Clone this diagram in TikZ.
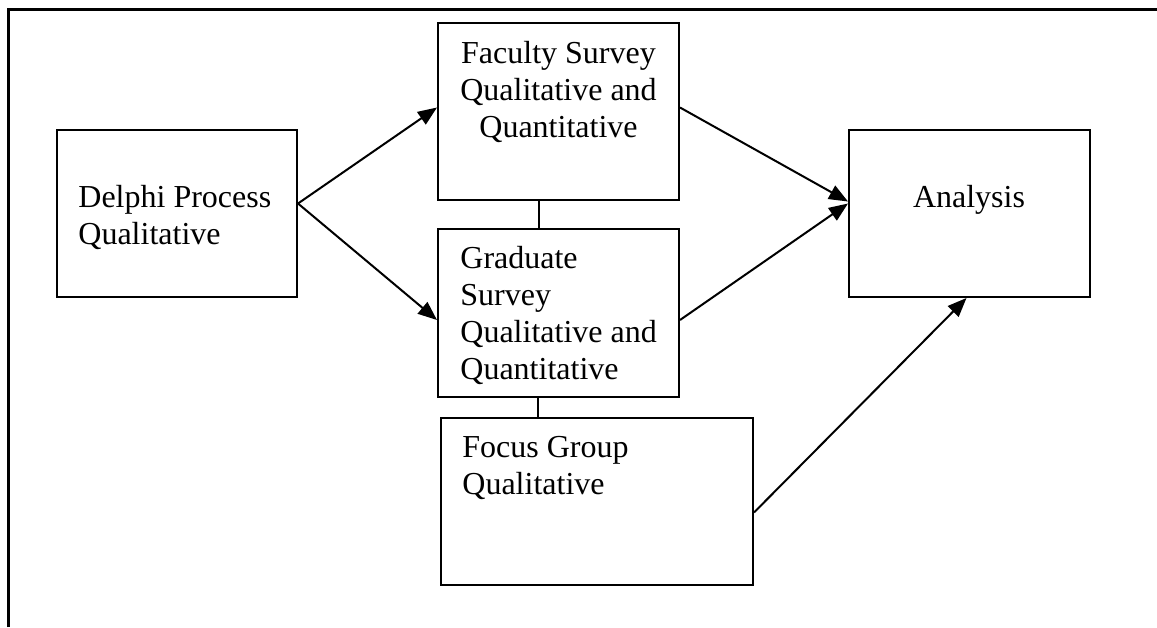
\documentclass[tikz,border=0pt]{standalone}
\usepackage{fontspec}
\setmainfont{Liberation Serif}
\usetikzlibrary{arrows.meta,positioning}

\tikzset{
    stage/.style={draw, line width=1pt, inner sep=0pt},
    stagetext/.style={font=\fontsize{16}{18.5}\selectfont, inner sep=0pt, align=left},
    flow/.style={-{Triangle[length=9.5pt,width=7.5pt]}, line width=1pt},
    link/.style={line width=1pt}
}

\begin{document}
\begin{tikzpicture}[x=0.5pt,y=-0.5pt]
    \useasboundingbox (0,0) rectangle (1157,627);

    % open frame
    \draw [line width=1.5pt] (8,627) -- (8,9) -- (1157,9);

    % boxes
    \node [stage, minimum width=120pt, minimum height=83.5pt] (delphi) at (177,213.5) {};
    \node [stage, minimum width=120.5pt, minimum height=88.5pt] (faculty) at (558.5,111.5) {};
    \node [stage, minimum width=120.5pt, minimum height=84pt] (graduate) at (558.5,313) {};
    \node [stage, minimum width=156pt, minimum height=83.5pt] (focus) at (597,501.5) {};
    \node [stage, minimum width=120.5pt, minimum height=83.5pt] (analysis) at (969.5,213.5) {};

    % texts (base = last line)
    \node [stagetext, anchor=base west] (delphitext) at (78,244)
        {Delphi Process\\Qualitative};
    \node [stagetext, align=center, anchor=base] (facultytext) at (558.5,137)
        {Faculty Survey\\Qualitative and\\Quantitative};
    \node [stagetext, anchor=base west] (graduatetext) at (460,379)
        {Graduate\\Survey\\Qualitative and\\Quantitative};
    \node [stagetext, anchor=base west] (focustext) at (462,494)
        {Focus Group\\Qualitative};
    \node [stagetext, anchor=base] (analysistext) at (969,207) {Analysis};

    % arrows
    \draw [flow] ([yshift=5pt]delphi.east) -- ([yshift=2pt]faculty.west);
    \draw [flow] ([yshift=5pt]delphi.east) -- ([yshift=-3.5pt]graduate.west);
    \draw [flow] ([yshift=2pt]faculty.east) -- ([yshift=6pt]analysis.west);
    \draw [flow] ([yshift=-3.5pt]graduate.east) -- ([yshift=5pt]analysis.west);
    \draw [flow] ([yshift=-5.5pt]focus.east) -- ([xshift=-1.5pt]analysis.south);

    % plain links
    \draw [link] ([xshift=-10pt]faculty.south) -- ([xshift=-10pt]graduate.north);
    \draw [link] ([xshift=-10.5pt]graduate.south) -- ([xshift=-10.5pt]graduate.south |- focus.north);

\end{tikzpicture}
\end{document}
